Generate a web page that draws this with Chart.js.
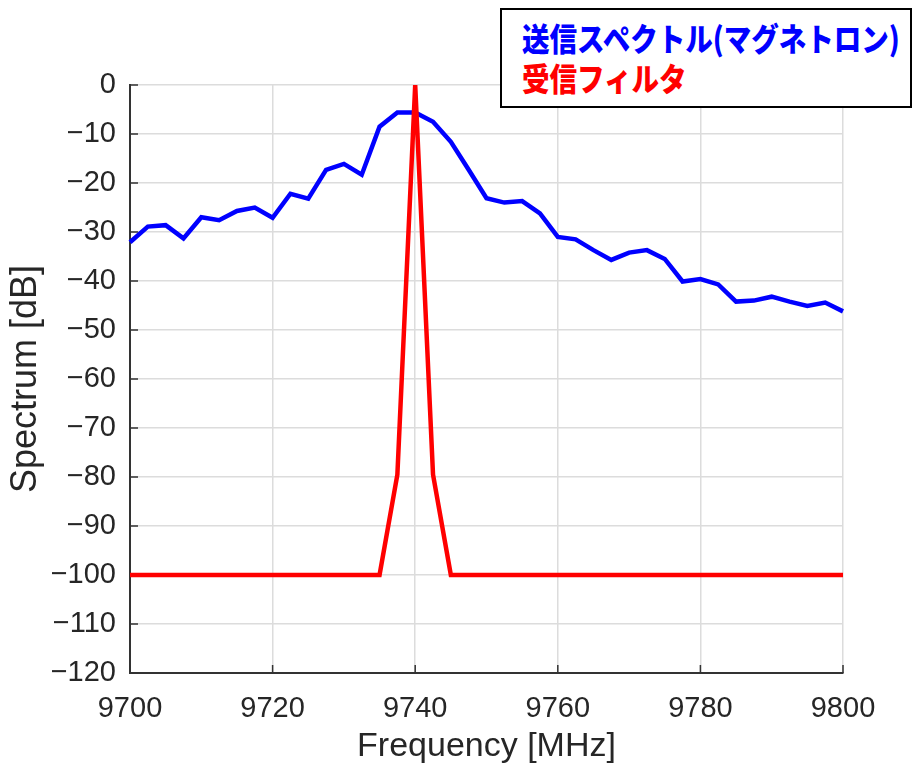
<!DOCTYPE html>
<html>
<head>
<meta charset="utf-8">
<script src="https://cdn.jsdelivr.net/npm/chart.js@4.4.1/dist/chart.umd.min.js"></script>
<style>
  html, body { margin: 0; padding: 0; background: #fff; }
  #wrap { position: relative; width: 913px; height: 763px; }
  #legendBox {
    position: absolute; left: 500px; top: 8px; width: 408px; height: 96px;
    border: 2px solid #000; background: #fff; overflow: hidden;
  }
  .lg {
    position: absolute; left: 20px; white-space: nowrap;
    font-family: "Noto Sans CJK JP", sans-serif; font-weight: 900; font-size: 32px; line-height: 32px;
    transform: scaleX(0.86); transform-origin: 0 0;
  }
</style>
</head>
<body>
<div id="wrap">
  <canvas id="wykres" width="913" height="763"></canvas>
  <div id="legendBox">
    <div class="lg" id="lgTx" style="top:11px;color:#0000ff">送信スペクトル(マグネトロン)</div>
    <div class="lg" id="lgRx" style="top:51px;color:#ff0000">受信フィルタ</div>
  </div>
</div>
<script>
// ── dane: widmo nadajnika (magnetron) i filtr odbiornika ──
const freqTx = [9700, 9702.5, 9705, 9707.5, 9710, 9712.5, 9715, 9717.5, 9720, 9722.5,
                9725, 9727.5, 9730, 9732.5, 9735, 9737.5, 9740, 9742.5, 9745, 9747.5,
                9750, 9752.5, 9755, 9757.5, 9760, 9762.5, 9765, 9767.5, 9770, 9772.5,
                9775, 9777.5, 9780, 9782.5, 9785, 9787.5, 9790, 9792.5, 9795, 9797.5, 9800];
const specTx = [-32.1, -28.9, -28.6, -31.3, -27.0, -27.6, -25.7, -25.0, -27.1, -22.2,
                -23.2, -17.3, -16.1, -18.3, -8.5, -5.6, -5.6, -7.5, -11.6, -17.3,
                -23.1, -24.0, -23.7, -26.2, -31.0, -31.5, -33.7, -35.7, -34.2, -33.7,
                -35.5, -40.1, -39.6, -40.7, -44.2, -44.0, -43.2, -44.2, -45.1, -44.4, -46.2];

const freqRx = [9700, 9735, 9737.5, 9740, 9742.5, 9745, 9800];
const specRx = [-100, -100, -79.5, 0, -79.5, -100, -100];

const xTicks = [9700, 9720, 9740, 9760, 9780, 9800];
const yTicks = [0, -10, -20, -30, -40, -50, -60, -70, -80, -90, -100, -110, -120];

const labelTx = "送信スペクトル(マグネトロン)";
const labelRx = "受信フィルタ";

const txtColor = "#262626";
const fontTick = { family: "'Liberation Sans', Arial, sans-serif", size: 29 };
const fontTitleX = { family: "'Liberation Sans', Arial, sans-serif", size: 34 };
const fontTitleY = { family: "'Liberation Sans', Arial, sans-serif", size: 36 };

function zip(xs, ys) { return xs.map((x, i) => ({ x: x, y: ys[i] })); }

// krótkie kreski podziałki skierowane do wnętrza wykresu
const tickiDoSrodka = {
  id: "tickiDoSrodka",
  beforeDatasetsDraw(chart) {
    const { ctx, chartArea, scales } = chart;
    ctx.save();
    ctx.strokeStyle = "#333";
    ctx.lineWidth = 1.5;
    ctx.beginPath();
    yTicks.forEach(v => {
      const y = scales.y.getPixelForValue(v);
      ctx.moveTo(chartArea.left, y);
      ctx.lineTo(chartArea.left + 8, y);
    });
    xTicks.forEach(v => {
      const x = scales.x.getPixelForValue(v);
      ctx.moveTo(x, chartArea.bottom);
      ctx.lineTo(x, chartArea.bottom - 8);
    });
    ctx.stroke();
    ctx.restore();
  }
};

new Chart(document.getElementById("wykres"), {
  type: "line",
  data: {
    datasets: [
      { label: labelRx, data: zip(freqRx, specRx), borderColor: "#ff0000", borderWidth: 4.5,
        pointRadius: 0, tension: 0, clip: 6, order: 0 },
      { label: labelTx, data: zip(freqTx, specTx), borderColor: "#0000ff", borderWidth: 4.5,
        pointRadius: 0, tension: 0, clip: 6, order: 1 }
    ]
  },
  options: {
    responsive: false,
    animation: false,
    layout: { padding: { left: 0, top: 85, right: 70, bottom: 0 } },
    plugins: { legend: { display: false }, tooltip: { enabled: false } },
    scales: {
      x: {
        type: "linear", min: 9700, max: 9800,
        afterBuildTicks: s => { s.ticks = xTicks.map(v => ({ value: v })); },
        afterFit: s => { s.height = 90; },
        grid: { color: "#dcdcdc", lineWidth: 1.5, drawTicks: false },
        border: { color: "#333", width: 2 },
        ticks: { font: fontTick, color: txtColor, padding: 19, maxRotation: 0,
                 callback: v => String(v) },
        title: { display: true, text: "Frequency [MHz]", font: fontTitleX, color: txtColor, padding: { top: 0, bottom: -4 } }
      },
      y: {
        min: -120, max: 0,
        afterBuildTicks: s => { s.ticks = yTicks.map(v => ({ value: v })); },
        afterFit: s => { s.width = 130; },
        grid: { color: "#dcdcdc", lineWidth: 1.5, drawTicks: false },
        border: { color: "#333", width: 2 },
        ticks: { font: fontTick, color: txtColor, padding: 14,
                 callback: v => v < 0 ? "\u2212" + Math.abs(v) : String(v) },
        title: { display: true, text: "Spectrum [dB]", font: fontTitleY, color: txtColor, padding: { top: 4, bottom: 0 } }
      }
    }
  },
  plugins: [tickiDoSrodka]
});
</script>
</body>
</html>
